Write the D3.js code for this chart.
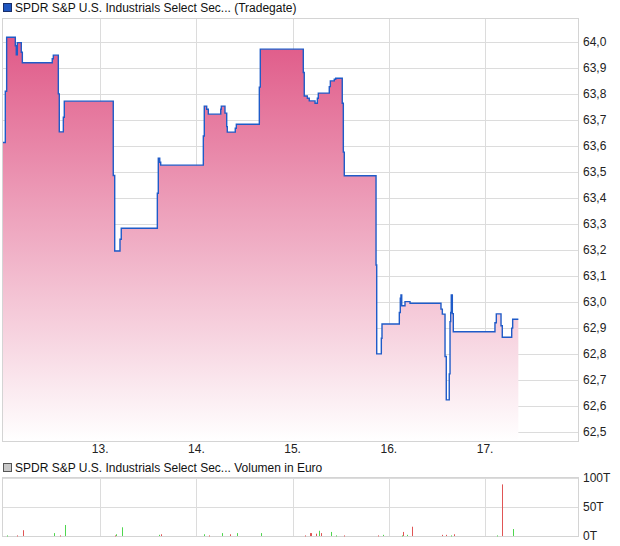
<!DOCTYPE html>
<html><head><meta charset="utf-8">
<script src="https://cdn.jsdelivr.net/npm/d3@7"></script>
<style>
html,body{margin:0;padding:0;background:#fff;}
svg{display:block;font-family:"Liberation Sans",Arial,sans-serif;}
</style></head>
<body><svg id="c" width="620" height="546"></svg>
<script>
// ---- data ----
const priceTitle = "SPDR S&P U.S. Industrials Select Sec... (Tradegate)";
const volumeTitle = "SPDR S&P U.S. Industrials Select Sec... Volumen in Euro";
const dayTicks = [13, 14, 15, 16, 17];
const priceTicks = [62.5, 62.6, 62.7, 62.8, 62.9, 63.0, 63.1, 63.2, 63.3, 63.4, 63.5, 63.6, 63.7, 63.8, 63.9, 64.0];
const volumeTicks = [0, 50, 100];
// times as fractional day of month, price in EUR (step after)
const priceTimes = [11.990,12.014,12.028,12.118,12.128,12.139,12.180,12.191,12.502,12.513,12.565,12.575,12.617,12.627,
13.136,13.151,13.206,13.219,13.594,13.604,13.619,13.629,
14.072,14.082,14.107,14.124,14.253,14.259,14.297,14.315,14.321,14.404,14.415,14.654,14.664,
15.111,15.121,15.153,15.173,15.233,15.257,15.267,15.381,15.392,15.433,15.448,15.516,15.527,15.537,15.867,15.874,15.922,15.929,
16.109,16.119,16.126,16.134,16.168,16.220,16.542,16.556,16.584,16.597,16.628,16.636,16.643,16.649,16.660,16.670,
17.103,17.117,17.166,17.179,17.277,17.287,17.346];
const priceValues = [63.613,63.81,64.018,63.985,63.95,63.997,63.96,63.92,63.935,63.949,63.80,63.654,63.71,63.772,
63.486,63.196,63.241,63.283,63.418,63.553,63.537,63.526,
63.638,63.753,63.741,63.722,63.741,63.753,63.726,63.674,63.653,63.668,63.683,63.826,63.972,
63.882,63.792,63.783,63.773,63.764,63.783,63.803,63.828,63.85,63.856,63.86,63.764,63.576,63.485,63.142,62.80,62.86,62.915,
62.959,63.014,63.027,62.985,63.001,62.995,62.972,62.953,62.79,62.623,62.723,62.924,62.959,63.027,62.955,62.885,
62.92,62.954,62.908,62.864,62.899,62.933,62.933];
// volume in thousand EUR; dir: 1 = up (green), -1 = down (red)
const volumeTimes = [12.034,12.137,12.198,12.518,12.580,12.633,13.155,13.163,13.225,13.611,13.628,
14.083,14.129,14.264,14.347,14.420,14.671,15.127,15.177,15.189,15.238,15.271,15.291,15.394,15.448,15.538,
15.887,15.936,16.134,16.146,16.187,16.236,16.557,16.598,16.648,16.675,17.119,17.181,17.291];
const volumeValues = [1,1,10,5,1,19,1,3,15,2,3,3,1,5,3,5,5,1,5,5,4,9,5,7,1,1,1,2,1,7,2,16,2,2,1,3,1,89,12];
const volumeDirs = [1,-1,-1,1,-1,1,-1,1,1,1,-1,1,-1,1,-1,1,1,-1,-1,-1,-1,1,-1,1,1,-1,-1,1,1,-1,1,-1,-1,-1,1,-1,1,-1,1];

// ---- layout ----
const svg = d3.select("#c");
const L = 3, R = 578;
const P = {top: 19, bottom: 441};
const V = {top: 478, bottom: 536};
const gridColor = "#dcdcdc";

const x = d3.scaleLinear().domain([11.99, 17.966]).range([L, R]);
const y = d3.scaleLinear().domain([62.465, 64.088]).range([P.bottom, P.top]);
const yv = d3.scaleLinear().domain([0, 100]).range([V.bottom, V.top]);

const fmt = v => d3.format(".1f")(v).replace(".", ",");

// legend 1
svg.append("rect").attr("x", 3.5).attr("y", 3.5).attr("width", 8).attr("height", 8)
  .attr("fill", "#1f56c0").attr("stroke", "#1a2f6a");
svg.append("text").attr("x", 15).attr("y", 12).attr("font-size", 12).attr("fill", "#111").text(priceTitle);

// price grid
const gP = svg.append("g");
gP.selectAll("line.h").data(priceTicks).join("line")
  .attr("x1", L).attr("x2", R).attr("y1", d => Math.round(y(d)) + 0.5).attr("y2", d => Math.round(y(d)) + 0.5)
  .attr("stroke", gridColor);
gP.selectAll("line.v").data(dayTicks).join("line")
  .attr("x1", d => Math.round(x(d)) + 0.5).attr("x2", d => Math.round(x(d)) + 0.5)
  .attr("y1", P.top).attr("y2", P.bottom).attr("stroke", gridColor);

// gradient
const defs = svg.append("defs");
const grad = defs.append("linearGradient").attr("id", "pg").attr("gradientUnits", "userSpaceOnUse")
  .attr("x1", 0).attr("x2", 0).attr("y1", y(64.0)).attr("y2", P.bottom);
grad.append("stop").attr("offset", 0).attr("stop-color", "#e05b89");
grad.append("stop").attr("offset", 1).attr("stop-color", "#ffffff");

const pts = priceTimes.map((t, i) => ({t, v: priceValues[i]}));
const area = d3.area().x(d => x(d.t)).y0(P.bottom).y1(d => y(d.v)).curve(d3.curveStepAfter);
const line = d3.line().x(d => x(d.t)).y(d => y(d.v)).curve(d3.curveStepAfter);
svg.append("path").datum(pts).attr("d", area).attr("fill", "url(#pg)");
svg.append("path").datum(pts).attr("d", line).attr("fill", "none")
  .attr("stroke", "#1f5bc8").attr("stroke-width", 1.4);

// price frame
svg.append("rect").attr("x", L - 0.5).attr("y", P.top - 0.5).attr("width", R - L + 1).attr("height", P.bottom - P.top + 1)
  .attr("fill", "none").attr("stroke", "#d4d4d4");

// price axis labels
svg.append("g").selectAll("text").data(priceTicks).join("text")
  .attr("x", 583).attr("y", d => y(d) + 4).attr("font-size", 12).attr("fill", "#222").text(fmt);
svg.append("g").selectAll("text").data(dayTicks).join("text")
  .attr("x", d => x(d)).attr("y", 453).attr("text-anchor", "middle").attr("font-size", 12).attr("fill", "#222")
  .text(d => d + ".");

// legend 2
svg.append("rect").attr("x", 3.5).attr("y", 463.5).attr("width", 8).attr("height", 8)
  .attr("fill", "#c8c8c8").attr("stroke", "#555");
svg.append("text").attr("x", 15).attr("y", 472).attr("font-size", 12).attr("fill", "#111").text(volumeTitle);

// volume grid
const gV = svg.append("g");
gV.selectAll("line.h").data(volumeTicks).join("line")
  .attr("x1", L).attr("x2", R).attr("y1", d => Math.round(yv(d)) + 0.5).attr("y2", d => Math.round(yv(d)) + 0.5)
  .attr("stroke", gridColor);
gV.selectAll("line.v").data(dayTicks).join("line")
  .attr("x1", d => Math.round(x(d)) + 0.5).attr("x2", d => Math.round(x(d)) + 0.5)
  .attr("y1", V.top).attr("y2", V.bottom).attr("stroke", gridColor);
svg.append("rect").attr("x", L - 0.5).attr("y", V.top - 0.5).attr("width", R - L + 1).attr("height", V.bottom - V.top + 1)
  .attr("fill", "none").attr("stroke", "#d4d4d4");

// volume bars
const vols = volumeTimes.map((t, i) => ({t, v: volumeValues[i], d: volumeDirs[i]}));
svg.append("g").selectAll("rect").data(vols).join("rect")
  .attr("x", d => Math.round(x(d.t))).attr("width", 1)
  .attr("y", d => yv(d.v)).attr("height", d => Math.max(1, yv(0) - yv(d.v)))
  .attr("fill", d => d.d > 0 ? "#4fd64f" : "#e05555");

svg.append("g").selectAll("text").data(volumeTicks).join("text")
  .attr("x", 583).attr("y", d => yv(d) + 4).attr("font-size", 12).attr("fill", "#222").text(d => d + "T");
</script></body></html>
